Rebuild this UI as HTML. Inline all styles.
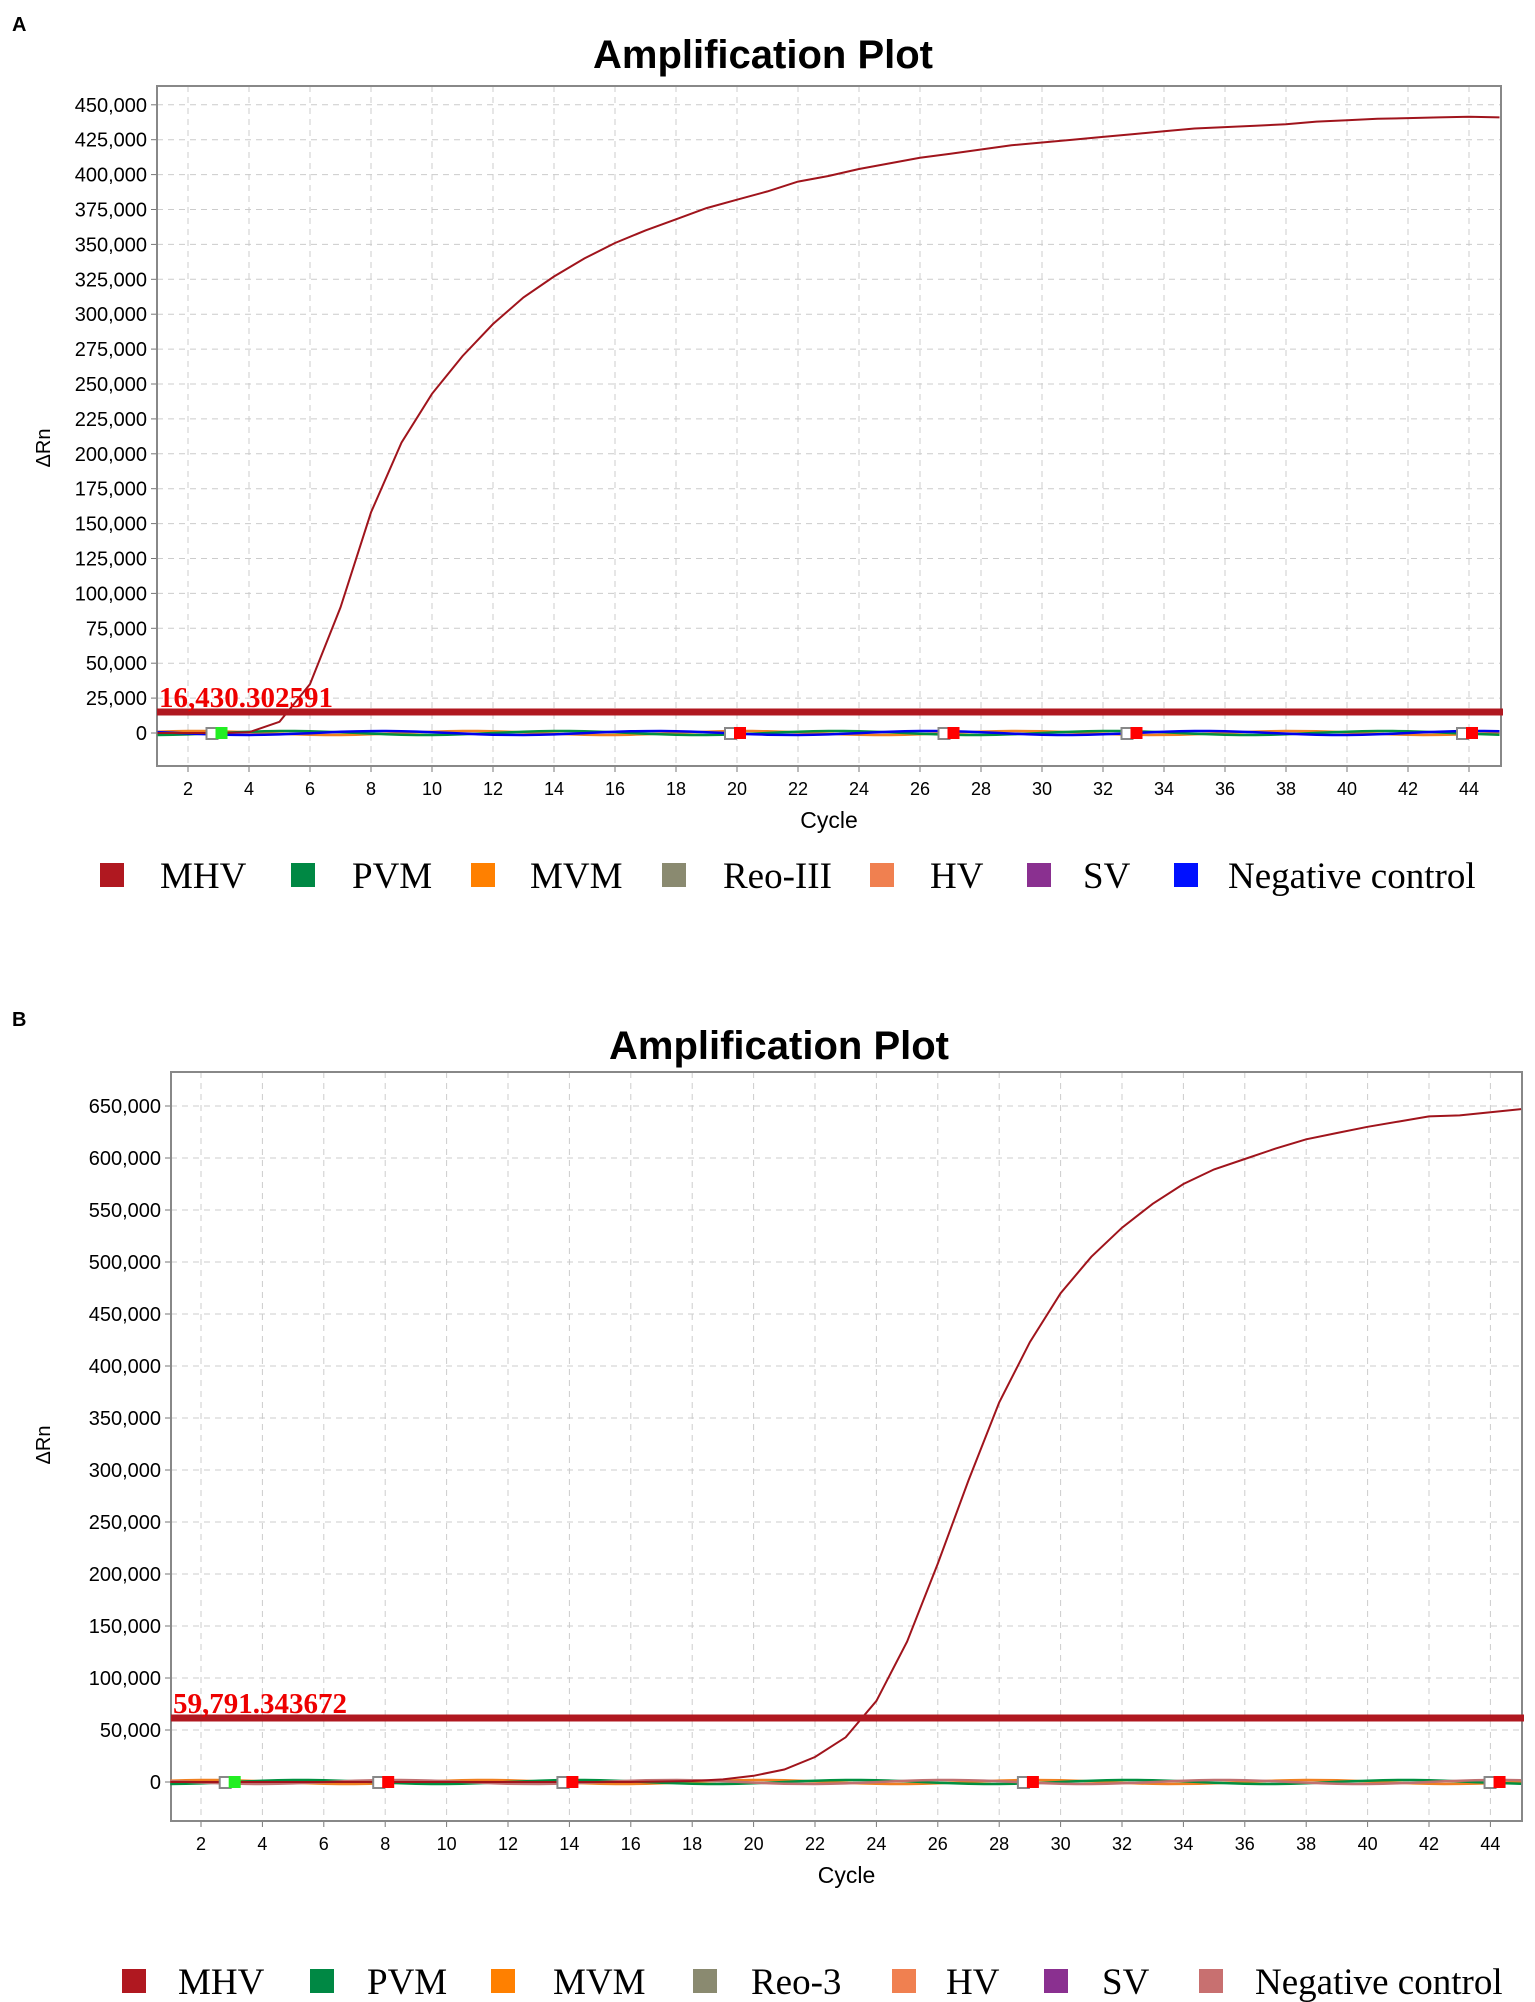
<!DOCTYPE html>
<html><head><meta charset="utf-8"><style>
body{margin:0;background:#fff;width:1535px;height:2002px;overflow:hidden}
svg{display:block}
</style></head><body>
<svg id="s" width="1535" height="2002" xmlns="http://www.w3.org/2000/svg" font-family="Liberation Sans, sans-serif"></svg>
<script>
const s=document.getElementById('s');let h='';
function panel(o){
 const X=c=>o.x2+(c-2)*o.cw, Y=v=>o.y0-v/o.step*o.sp;
 h+=`<text x="${o.tx}" y="${o.ty}" font-size="40" font-weight="bold" text-anchor="middle">Amplification Plot</text>`;
 for(let c=2;c<=44;c+=2){const x=X(c);h+=`<line x1="${x}" y1="${o.top}" x2="${x}" y2="${o.bot}" stroke="#ccc" stroke-dasharray="6,5"/><line x1="${x}" y1="${o.bot}" x2="${x}" y2="${o.bot+6}" stroke="#777"/><text x="${x}" y="${o.bot+29}" font-size="18" text-anchor="middle">${c}</text>`;}
 for(let v=0;v<=o.max;v+=o.step){const y=Y(v);h+=`<line x1="${o.l}" y1="${y}" x2="${o.r}" y2="${y}" stroke="#ccc" stroke-dasharray="6,5"/><line x1="${o.l-6}" y1="${y}" x2="${o.l}" y2="${y}" stroke="#777"/><text x="${o.l-10}" y="${y+7}" font-size="20" text-anchor="end">${v.toLocaleString('en-US')}</text>`;}
 h+=`<rect x="${o.l}" y="${o.top}" width="${o.r-o.l}" height="${o.bot-o.top}" fill="none" stroke="#888" stroke-width="2"/>`;
 h+=`<text x="${(o.l+o.r)/2}" y="${o.bot+62}" font-size="23" text-anchor="middle">Cycle</text>`;
 h+=`<text transform="translate(50,${o.ay}) rotate(-90)" font-size="20" text-anchor="middle">ΔRn</text>`;
 o.flat.forEach((cl,i)=>{let p=[];for(let c=1;c<=45;c+=0.5){p.push(X(c).toFixed(1)+','+(o.y0+Math.sin(c*0.7+i)*2*(i%2?1:-1)).toFixed(1));}h+=`<polyline points="${p.join(' ')}" fill="none" stroke="${cl}" stroke-width="2.5"/>`;});
 let p=o.data.map((v,i)=>X(i+1).toFixed(1)+','+Y(v).toFixed(1));
 h+=`<polyline points="${p.join(' ')}" fill="none" stroke="#a0141c" stroke-width="2"/>`;
 h+=`<line x1="${o.l}" y1="${o.th}" x2="${o.r+2}" y2="${o.th}" stroke="#b01820" stroke-width="7"/>`;
 h+=`<text x="${o.l+2}" y="${o.th-5}" font-family="Liberation Serif, serif" font-weight="bold" font-size="29" fill="#e00">${o.tl}</text>`;
 o.marks.forEach(m=>{const x=X(m[0]);h+=`<rect x="${x-12}" y="${o.y0-5}" width="11" height="11" fill="#fff" stroke="#888" stroke-width="2"/><rect x="${x-3}" y="${o.y0-6}" width="12" height="12" fill="${m[1]}"/>`;});
 o.leg.forEach(g=>{h+=`<rect x="${g[0]}" y="${o.ly-13}" width="24" height="24" fill="${g[1]}"/><text x="${g[2]}" y="${o.ly+12}" font-family="Liberation Serif, serif" font-size="37">${g[3]}</text>`;});
}
h+=`<text x="12" y="31" font-size="20" font-weight="bold">A</text><text x="12" y="1026" font-size="20" font-weight="bold">B</text>`;
panel({x2:188,cw:30.5,y0:733,step:25000,sp:34.9,max:450000,top:86,bot:766,l:157,r:1501,tx:763,ty:68,ay:448,th:712,tl:"16,430.302591",
 data:[0,0,0,500,8000,35000,90000,158000,208000,243000,270000,293000,312000,327000,340000,351000,360000,368000,376000,382000,388000,395000,399000,404000,408000,412000,415000,418000,421000,423000,425000,427000,429000,431000,433000,434000,435000,436000,438000,439000,440000,440500,441000,441500,441000],
 flat:["#f08020","#009040","#0000ee"],marks:[[3,"#2e2"],[20,"#f00"],[27,"#f00"],[33,"#f00"],[44,"#f00"]],ly:876,
 leg:[[100,"#b01820",160,"MHV"],[291,"#008844",352,"PVM"],[471,"#ff8000",530,"MVM"],[662,"#8a8a70",723,"Reo-III"],[870,"#f08050",930,"HV"],[1027,"#8a3090",1083,"SV"],[1174,"#0010ff",1228,"Negative control"]]});
panel({x2:201,cw:30.7,y0:1782,step:50000,sp:52,max:650000,top:1072,bot:1821,l:171,r:1522,tx:779,ty:1059,ay:1445,th:1718,tl:"59,791.343672",
 data:[0,0,0,0,0,0,0,0,0,0,0,0,0,0,0,0,500,1000,2500,6000,12000,24000,43000,78000,135000,210000,290000,365000,423000,470000,505000,533000,556000,575000,589000,599000,609000,618000,624000,630000,635000,640000,641000,644000,647000],
 flat:["#f08020","#009040","#c07070"],marks:[[3,"#2e2"],[8,"#f00"],[14,"#f00"],[29,"#f00"],[44.2,"#f00"]],ly:1982,
 leg:[[122,"#b01820",178,"MHV"],[310,"#008844",367,"PVM"],[491,"#ff8000",553,"MVM"],[693,"#8a8a70",751,"Reo-3"],[892,"#f08050",946,"HV"],[1044,"#8a3090",1102,"SV"],[1199,"#c87070",1255,"Negative control"]]});
s.innerHTML=h;
</script>
</body></html>
